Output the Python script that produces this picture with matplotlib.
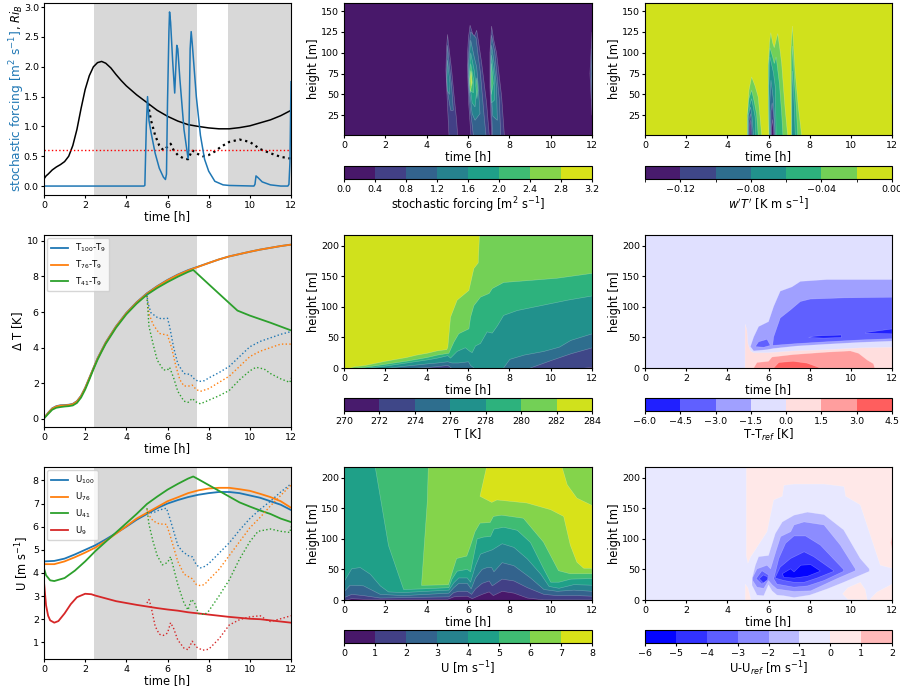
import numpy as np
import matplotlib
matplotlib.use('Agg')
import matplotlib.pyplot as plt
from matplotlib.cm import ScalarMappable
from matplotlib.colors import BoundaryNorm, ListedColormap

# left column, (time, value)
ri_solid = [(0,.12),(.1,.17),(.2,.2),(.4,.27),(.6,.32),(.8,.36),(1,.41),(1.2,.5),(1.4,.68),(1.6,.95),(1.8,1.3),(2,1.62),(2.2,1.85),(2.4,2),(2.6,2.07),(2.8,2.09),(3,2.06),(3.25,1.98),(3.5,1.87),(3.75,1.77),(4,1.68),(4.5,1.53),(5,1.4),(5.5,1.27),(6,1.17),(6.5,1.09),(7,1.03),(7.5,1),(8,.975),(8.5,.96),(9,.96),(9.5,.98),(10,1.01),(10.5,1.06),(11,1.11),(11.5,1.18),(12,1.27)]
ri_dotted = [(5.05,1.38),(5.2,1.1),(5.4,.85),(5.6,.68),(5.8,.6),(6,.66),(6.15,.71),(6.3,.6),(6.5,.52),(6.8,.46),(7,.45),(7.2,.6),(7.4,.55),(7.7,.5),(8,.52),(8.3,.58),(8.6,.66),(9,.74),(9.5,.78),(10,.74),(10.5,.62),(11,.55),(11.5,.49),(12,.46)]
forcing = [(0,0),(4.85,0),(4.9,.01),(4.97,1),(5.03,1.5),(5.1,1.1),(5.2,.9),(5.4,.55),(5.6,.3),(5.8,.15),(5.9,.11),(5.95,.2),(6,1.4),(6.07,2.6),(6.1,2.92),(6.15,2.75),(6.25,2.1),(6.35,1.56),(6.45,2.36),(6.5,2.3),(6.6,1.8),(6.8,.95),(7,.46),(7.03,.6),(7.1,2.3),(7.15,2.59),(7.2,2.4),(7.4,1.5),(7.6,.85),(7.8,.45),(8,.25),(8.3,.08),(8.7,.02),(9,.01),(10.2,0),(10.25,.03),(10.3,.17),(10.4,.14),(10.6,.07),(11,.02),(11.5,0),(11.85,0),(11.9,.03),(11.95,.4),(12,1.75)]
ri_crit = 0.6

dT100 = [(0,.05),(.2,.35),(.4,.6),(.6,.72),(.8,.77),(1,.78),(1.2,.8),(1.4,.85),(1.6,1),(1.8,1.3),(2,1.75),(2.2,2.3),(2.4,2.85),(2.6,3.4),(2.8,3.85),(3,4.3),(3.5,5.2),(4,5.95),(4.5,6.55),(5,7.05),(5.5,7.45),(6,7.8),(6.5,8.1),(7,8.35),(7.5,8.55),(8,8.75),(8.5,8.95),(9,9.12),(9.5,9.25),(10,9.38),(10.5,9.5),(11,9.6),(11.5,9.7),(12,9.78)]
dT76 = [(0,.05),(.2,.33),(.4,.58),(.6,.7),(.8,.75),(1,.76),(1.2,.78),(1.4,.83),(1.6,.98),(1.8,1.28),(2,1.73),(2.2,2.28),(2.4,2.83),(2.6,3.38),(2.8,3.83),(3,4.28),(3.5,5.18),(4,5.93),(4.5,6.53),(5,7.03),(5.5,7.43),(6,7.78),(6.5,8.08),(7,8.33),(7.5,8.54),(8,8.75),(8.5,8.95),(9,9.12),(9.5,9.25),(10,9.38),(10.5,9.5),(11,9.6),(11.5,9.7),(12,9.78)]
dT41 = [(0,.03),(.2,.28),(.4,.52),(.6,.63),(.8,.67),(1,.7),(1.2,.72),(1.4,.76),(1.6,.9),(1.8,1.2),(2,1.65),(2.2,2.2),(2.4,2.78),(2.6,3.32),(2.8,3.78),(3,4.22),(3.5,5.12),(4,5.87),(4.5,6.47),(5,6.97),(5.5,7.35),(6,7.68),(6.5,7.98),(7,8.25),(7.25,8.36),(8,7.56),(9,6.5),(9.4,6.08),(10,5.8),(11,5.4),(12,4.97)]
dT100_dot = [(5,7),(5.05,6.5),(5.2,5.95),(5.5,5.7),(5.7,5.62),(6,5.65),(6.1,5.2),(6.3,4),(6.5,3.1),(6.8,2.55),(7.1,2.5),(7.3,2.25),(7.5,2.1),(7.8,2.15),(8,2.3),(8.5,2.6),(9,2.95),(9.5,3.5),(10,4.05),(10.5,4.35),(11,4.55),(11.5,4.75),(12,4.9)]
dT76_dot = [(5,6.9),(5.1,5.9),(5.3,5.3),(5.6,4.8),(6,4.7),(6.2,4),(6.4,3),(6.6,2.2),(6.8,1.85),(7.1,1.85),(7.2,1.9),(7.4,1.65),(7.6,1.55),(8,1.7),(8.5,2.05),(9,2.4),(9.5,2.95),(10,3.5),(10.5,3.8),(11,4),(11.5,4.2),(12,4.2)]
dT41_dot = [(5,6.9),(5.1,5.2),(5.3,4.2),(5.5,3.3),(5.8,2.75),(6,2.75),(6.1,2.9),(6.3,2.3),(6.5,1.55),(6.8,1),(7,.93),(7.2,1.15),(7.4,.95),(7.6,.85),(8,1.05),(8.5,1.3),(9,1.6),(9.5,2.2),(10,2.7),(10.3,2.9),(10.7,2.8),(11,2.55),(11.5,2.25),(11.95,2.05),(12,2.3)]

u100 = [(0,4.5),(.5,4.52),(1,4.62),(1.5,4.8),(2,5),(2.5,5.2),(3,5.45),(3.5,5.72),(4,6),(4.5,6.3),(5,6.55),(5.5,6.8),(6,7),(6.5,7.15),(7,7.28),(7.5,7.38),(8,7.45),(8.5,7.5),(9,7.5),(9.5,7.45),(10,7.35),(10.5,7.25),(11,7.1),(11.5,6.95),(12,6.72)]
u76 = [(0,4.38),(.5,4.38),(1,4.5),(1.5,4.68),(2,4.88),(2.5,5.1),(3,5.38),(3.5,5.7),(4,6.02),(4.5,6.35),(5,6.6),(5.5,6.85),(6,7.1),(6.5,7.27),(7,7.45),(7.5,7.57),(8,7.65),(8.5,7.68),(9,7.68),(9.5,7.62),(10,7.55),(10.5,7.42),(11,7.28),(11.5,7.1),(12,6.82)]
u41 = [(0,4.2),(.1,3.9),(.3,3.68),(.5,3.65),(1,3.78),(1.5,4.1),(2,4.5),(2.5,4.95),(3,5.35),(3.5,5.75),(4,6.15),(4.5,6.55),(5,6.98),(5.5,7.3),(6,7.6),(6.5,7.85),(7,8.08),(7.25,8.17),(7.5,8.05),(8,7.8),(8.5,7.55),(9,7.3),(9.5,7.05),(10,6.87),(10.5,6.7),(11,6.55),(11.5,6.35),(12,6.2)]
u9 = [(0,3.6),(.05,3.1),(.1,2.6),(.2,2.15),(.3,1.95),(.5,1.85),(.7,1.92),(1,2.25),(1.3,2.65),(1.6,2.95),(2,3.1),(2.3,3.08),(2.5,3.02),(3,2.9),(3.5,2.78),(4,2.7),(4.5,2.62),(5,2.55),(5.5,2.48),(6,2.42),(6.5,2.37),(7,2.3),(7.5,2.25),(8,2.2),(8.5,2.15),(9,2.1),(9.5,2.06),(10,2.02),(10.5,2),(11,1.95),(11.5,1.9),(12,1.85)]
u100_dot = [(5,6.6),(5.3,6.6),(5.6,6.72),(5.95,6.8),(6.1,6.4),(6.3,5.8),(6.5,5.2),(6.7,4.95),(7,4.75),(7.2,4.7),(7.4,4.35),(7.6,4.22),(7.8,4.28),(8,4.4),(8.5,4.85),(9,5.3),(9.5,5.85),(10,6.35),(10.5,6.75),(11,7.1),(11.5,7.5),(12,7.85)]
u76_dot = [(5,6.75),(5.1,6.5),(5.3,6.25),(5.6,6.12),(5.95,6.1),(6.1,5.7),(6.3,5.1),(6.5,4.5),(6.8,3.95),(7,3.85),(7.2,3.75),(7.4,3.5),(7.6,3.45),(7.8,3.5),(8,3.7),(8.5,4.15),(9,4.75),(9.5,5.35),(10,5.95),(10.5,6.4),(11,6.9),(11.5,7.35),(12,7.8)]
u41_dot = [(5,6.8),(5.1,6.1),(5.3,5.35),(5.5,4.75),(5.75,4.35),(6,4.45),(6.15,4.7),(6.3,4.2),(6.5,3.5),(6.8,2.7),(7,2.4),(7.15,2.85),(7.3,2.75),(7.5,2.25),(7.8,2.2),(8,2.35),(8.5,3),(9,3.7),(9.5,4.6),(10,5.35),(10.4,5.8),(11,5.9),(11.5,5.8),(11.95,5.75),(12,6)]
u9_dot = [(5,2.7),(5.1,2.85),(5.2,2.55),(5.4,1.7),(5.6,1.35),(5.8,1.3),(6,1.4),(6.15,1.85),(6.3,1.6),(6.5,1.1),(6.8,.75),(7,.68),(7.2,1.05),(7.4,.8),(7.7,.66),(8,.7),(8.5,1.15),(9,1.75),(9.5,1.98),(10,2.1),(10.5,2.15),(10.8,1.98),(11,1.9),(11.5,2.02),(12,2.15)]

night_spans = [(2.45,7.45),(8.95,12)]

# colour levels of the filled panels
forcing_levels = [0,.4,.8,1.2,1.6,2,2.4,2.8,3.2]
wt_levels = [-.14,-.12,-.1,-.08,-.06,-.04,-.02,0]
wt_ticks = [-.12,-.08,-.04,0]
wt_ticklabels = ['\u22120.12','\u22120.08','\u22120.04','0.00']
t_levels = [270,272,274,276,278,280,282,284]
dt_levels = [-6,-4.5,-3,-1.5,0,1.5,3,4.5]
u_levels = [0,1,2,3,4,5,6,7,8]
du_levels = [-6,-5,-4,-3,-2,-1,0,1,2]

# stochastic forcing, closed outlines (time, height) of each level
fc_band1 = [
 [(4.93,79),(4.96,105),(5.01,122),(5.1,102),(5.21,79),(5.32,50),(5.45,19),(5.5,1),(5.08,1),(5,40)],
 [(5.98,76),(5.98,100),(6.02,118),(6.1,133),(6.2,125),(6.26,118),(6.34,122),(6.42,127),(6.5,115),(6.66,88),(6.8,60),(6.9,40),(7.03,1),(6.14,1),(6.03,40)],
 [(7.06,100),(7.14,132),(7.25,115),(7.38,100),(7.5,75),(7.63,47),(7.76,1),(7.14,1),(7.06,59)],
 [(11.9,75),(12,125),(12,25)]]
fc_band2 = [
 [(4.96,70),(5.01,109),(5.1,85),(5.21,59),(5.29,31),(5.16,31),(5,55)],
 [(6,85),(6.05,105),(6.13,125),(6.39,118),(6.5,95),(6.6,76),(6.77,27),(6.87,1),(6.26,1),(6.1,35),(6.03,60)],
 [(7.08,100),(7.14,121),(7.3,100),(7.52,43),(7.58,1),(7.19,1),(7.1,50)],
 [(11.96,75),(12,105),(12,45)]]
fc_band3 = [
 [(4.98,70),(5.01,91),(5.13,63),(5.1,50),(5,55)],
 [(6.03,85),(6.13,115),(6.3,95),(6.42,83),(6.5,59),(6.58,27),(6.34,19),(6.2,27),(6.05,60)],
 [(7.1,85),(7.14,109),(7.27,87),(7.38,59),(7.42,19),(7.2,24),(7.1,60)]]
fc_band4 = [
 [(6.05,71),(6.13,100),(6.3,79),(6.42,55),(6.34,35),(6.2,40)],
 [(7.11,75),(7.14,97),(7.27,71),(7.27,43),(7.14,40)]]
fc_band5 = [
 [(6.07,75),(6.13,87),(6.26,69),(6.26,52),(6.1,55)],
 [(6.38,60),(6.43,70),(6.48,55),(6.43,45)],
 [(7.12,65),(7.14,87),(7.22,63),(7.13,50)]]
fc_band6 = [[(6.08,68),(6.14,79),(6.21,64),(6.1,52)]]
fc_band7 = [[(6.13,70),(6.15,78),(6.18,65),(6.15,60)]]

# w'T', drawn from the edge of the weak levels to the strong ones
wt_band5 = [
 [(4.97,1),(4.97,23),(5.05,55),(5.18,71),(5.35,60),(5.5,47),(5.6,20),(5.67,1)],
 [(6.02,1),(5.99,27),(5.99,87),(6.05,112),(6.11,124),(6.2,112),(6.28,106),(6.37,115),(6.45,123),(6.55,105),(6.64,87),(6.8,35),(6.93,1)],
 [(7.13,1),(7.08,50),(7.08,100),(7.16,132),(7.29,79),(7.45,35),(7.61,1)],
 [(11.97,50),(12,62),(12,38)]]
wt_band4 = [
 [(4.98,1),(4.98,25),(5.05,45),(5.18,55),(5.3,42),(5.42,27),(5.5,1)],
 [(6.03,1),(6,40),(6,85),(6.07,106),(6.2,95),(6.28,87),(6.37,95),(6.53,63),(6.64,27),(6.7,1)],
 [(7.12,1),(7.13,60),(7.16,108),(7.25,70),(7.35,35),(7.42,1)]]
wt_band3 = [
 [(5,1),(5,20),(5.1,38),(5.18,45),(5.35,23),(5.38,1)],
 [(6.05,1),(6.02,60),(6.07,95),(6.24,76),(6.33,59),(6.37,1)],
 [(7.13,1),(7.14,50),(7.17,78),(7.25,35),(7.3,1)]]
wt_band2 = [
 [(5.02,1),(5.03,25),(5.13,35),(5.2,22),(5.27,1)],
 [(6.09,1),(6.06,40),(6.12,67),(6.24,43),(6.33,1)]]
wt_band1 = [
 [(5.05,1),(5.05,18),(5.12,27),(5.18,12),(5.2,1)],
 [(6.12,1),(6.12,30),(6.18,40),(6.27,20),(6.3,1)]]
wt_band0 = [
 [(5.07,1),(5.08,12),(5.12,19),(5.14,1)],
 [(6.15,1),(6.15,10),(6.2,20),(6.25,5),(6.26,1)]]

# heights of the isotherms
t282 = [(0,0),(.3,1),(.5,3),(1,5),(2,12),(3,18),(3.5,22),(4,25),(4.5,29),(4.95,31),(5,35),(5.13,84),(5.45,112),(6.02,128),(6.26,164),(6.47,173),(6.53,218),(12,218)]
t280 = [(.5,0),(1,2),(2,7),(3,12),(4,18),(4.5,22),(5.05,25),(5.29,43),(5.53,57),(6.02,65),(6.1,84),(6.26,103),(6.58,117),(7,123),(7.15,131),(7.7,141),(8.85,144),(10.3,148),(12,156)]
t278 = [(1,0),(2,4),(3,9),(4,14),(4.5,17),(5,21),(5.13,17),(5.45,28),(5.85,34),(6.07,28),(6.18,26),(6.34,37),(6.58,41),(6.9,60),(7.15,58),(7.4,70),(7.7,87),(8.36,95),(9.65,104),(10.8,112),(12,119)]
t276 = [(2,0),(3,4),(4,7.5),(4.5,9),(5,11),(5.2,9),(5.5,9),(6,11),(6.1,5),(6.3,0),(7.68,0),(8,15),(8.7,22),(9.65,28),(10.4,35),(10.95,46),(12,57)]
t274 = [(3.2,0),(4,1.5),(4.5,3),(5,5),(5.2,0),(8.93,0),(10,13),(10.95,24),(12,34)]
t272 = [(11.5,0),(12,2)]

# T-Tref, closed outlines
dt_pale = [(4.86,0),(4.87,72),(4.95,62),(5,40),(5.12,28),(5.28,25),(6,25),(7.2,28),(8.84,30),(10.46,33),(12,34),(12,0)]
dt_pink = [(5.28,0),(5.44,9),(6,11),(6.17,18),(7.2,22),(8.84,26),(9.98,28),(10.38,24),(10.8,13),(11.1,7),(11.16,0)]
dt_red = [(6.25,0),(6.5,9),(7.2,11),(7.87,8),(8.52,0)]
dt_blue2 = [(5.12,35),(5.28,51),(5.52,68),(6,76),(6.25,101),(6.57,126),(7.14,133),(7.55,142),(8.84,145),(12,145),(12,44),(10.46,42),(8.84,39),(7.38,36),(6.25,32),(5.93,30),(5.28,28)]
dt_blue1a = [(5.36,35),(5.52,43),(5.93,47),(6.09,37),(5.77,34)]
dt_blue1b = [(6.2,37),(6.25,51),(6.57,82),(7.06,95),(7.55,109),(8.03,113),(9.65,115),(12,116),(12,48),(10.46,46),(8.84,43),(7.38,40)]
dt_deep_a = [(7.95,50),(8.2,52),(8.6,53),(9.54,54),(9.54,50),(8.68,49)]
dt_deep_b = [(10.7,58),(12,64),(12,56),(10.7,57)]

# U, lower edge of each level
u1_lo = [(0,0),(.35,3),(.92,2),(1.5,1.5),(5,2),(5.3,6),(5.94,7),(6.18,3),(6.66,10),(7,14),(7.2,8),(7.63,15),(8.2,12),(8.85,4),(9.65,1),(10.5,1),(12,1)]
u2_lo = [(0,5),(.35,10),(.92,8),(1.73,4),(5.05,6),(5.29,13),(5.53,15),(5.94,15),(6.15,10),(6.34,19),(6.66,28),(7,32),(7.15,24),(7.63,35),(8.2,32),(8.85,21),(9.65,10),(10.3,8),(11.27,8),(12,7)]
u3_lo = [(0,15),(.27,25),(.92,24),(1.73,10),(2.86,8),(5.05,12),(5.29,21),(5.53,28),(5.94,28),(6.13,19),(6.34,37),(6.66,51),(6.9,54),(7.12,54),(7.23,47),(7.63,62),(8.2,57),(9,37),(9.65,18),(10.3,15),(11.1,17),(12,15)]
u4_lo = [(0,32),(.35,52),(.76,54),(1.25,43),(1.73,24),(2.13,14),(2.86,13),(5.05,17),(5.29,29),(5.53,37),(5.94,37),(6.1,30),(6.34,57),(6.58,76),(6.9,80),(7.15,83),(7.63,93),(8.2,87),(8.85,68),(9.5,43),(9.9,23),(10.38,20),(11.1,26),(12,25)]
u5_lo = [(1.49,218),(2.13,90),(2.86,18),(3.75,19),(5.05,21),(5.2,35),(5.45,48),(5.94,51),(6.1,47),(6.42,101),(6.74,104),(7.07,105),(7.23,117),(7.7,120),(8.36,115),(9,95),(9.65,51),(9.98,30),(10.38,30),(10.95,35),(12,36)]
u6_edge = [(3.75,24),(4.03,161),(4.08,218),(12,218),(12,43),(10.95,43),(10.38,48),(9.65,95),(8.68,134),(7.63,139),(7.23,137),(7.07,127),(6.58,126),(6.34,112),(6.1,87),(5.94,72),(5.45,68),(5.29,51),(5.05,25)]
u7_edge = [(6.58,170),(6.9,218),(10.55,218),(10.8,189),(11.27,167),(12,155),(12,52),(11.6,52),(11.27,62),(10.95,90),(10.63,137),(10,148),(8.85,159),(7.4,164),(7.15,160)]

# U-Uref, closed outlines
du_pink_top = [(4.92,218),(4.92,73),(5,60),(5.12,70),(5.93,112),(6.25,164),(6.67,170),(6.75,188),(7.24,190),(8.7,190),(9.67,186),(9.75,170),(10.46,156),(10.95,106),(11.43,57),(12,52),(12,218)]
du_pink_a = [(4.87,0),(4.87,26),(5,20),(5.15,0)]
du_pink_b = [(9.6,10),(9.85,20),(10.46,29),(10.7,17),(10.8,0),(9.85,1)]
du_pink_c = [(10.95,2),(11.27,13),(12,26),(12,0),(11,0)]
du_rose = [(11.93,94),(12,104),(12,84)]
du_band4 = [(5.2,35),(5.36,57),(5.52,71),(6,73),(6.33,109),(6.67,128),(7.24,139),(7.89,144),(8.7,140),(9.65,115),(10.46,68),(10.9,51),(10.9,47),(9.65,29),(8.84,18),(8,8),(7.24,4),(6.74,7),(6.41,8),(6.17,15),(6,25),(5.77,7),(5.44,8),(5.2,24)]
du_band3 = [(5.23,37),(5.44,51),(5.93,57),(6.1,51),(6.38,82),(6.59,104),(7.08,112),(7.24,123),(7.73,128),(8.7,123),(9.49,90),(10.22,51),(10.22,48),(9.33,35),(8.05,15),(7.24,14),(6.41,18),(6.17,25),(6,32),(5.77,19),(5.44,21),(5.23,32)]
du_band2a = [(5.4,35),(5.68,48),(6,41),(6,35),(5.68,26)]
du_band2b = [(6.25,35),(6.27,37),(6.5,68),(6.83,93),(7.24,105),(7.8,105),(8.52,90),(9.65,50),(9.65,47),(8.7,32),(7.89,23),(7.24,21),(6.41,26)]
du_band1a = [(5.55,35),(5.75,41),(5.95,38),(5.95,33),(5.75,28)]
du_band1b = [(6.33,36),(6.33,37),(6.57,54),(7.07,68),(7.73,79),(8.2,71),(9.17,48),(9.17,47),(8.36,36),(7.73,29),(7.24,29),(6.74,32)]
du_band0 = [(6.67,43),(7.07,51),(7.24,46),(7.57,57),(8.05,58),(8.5,48),(8.5,47),(7.9,39),(7.24,36),(6.75,37)]

time_ticks = [0,2,4,6,8,10,12]
z_ticks_low = [25,50,75,100,125,150]
z_ticks_high = [0,50,100,150,200]
z_top = 218

plt.rcParams['font.size'] = 6.8
plt.rcParams['axes.labelsize'] = 8.3
plt.rcParams['lines.linewidth'] = 1.1
plt.rcParams['axes.linewidth'] = 0.8
plt.rcParams['xtick.major.size'] = 2.2
plt.rcParams['ytick.major.size'] = 2.2
plt.rcParams['xtick.major.pad'] = 2
plt.rcParams['ytick.major.pad'] = 1.5

edge = (1, 1, 1, 0.3)


def xy(pairs):
    a = np.array(pairs, dtype=float)
    return a[:, 0], a[:, 1]


def line(ax, pairs, *args, **kw):
    t, v = xy(pairs)
    return ax.plot(t, v, *args, **kw)[0]


def outline(ax, pairs, color):
    t, z = xy(pairs)
    ax.fill(t, z, facecolor=color, edgecolor=edge, lw=0.4)


def box(px_left, px_top, px_right, px_bottom):
    return fig.add_axes([px_left/900, 1-px_bottom/695, (px_right-px_left)/900, (px_bottom-px_top)/695])


def viridis_colors(n):
    return [plt.get_cmap('viridis')((i+.5)/n) for i in range(n)]


def bwr_colors(levels, vlim):
    cols = []
    for a, b in zip(levels[:-1], levels[1:]):
        cols.append(plt.get_cmap('bwr')(((a+b)/2+vlim)/(2*vlim)))
    return cols


def colorbar(ax_px, levels, colors, label, ticks=None, ticklabels=None):
    cax = box(*ax_px)
    sm = ScalarMappable(norm=BoundaryNorm(levels, len(colors)), cmap=ListedColormap(colors))
    cb = fig.colorbar(sm, cax=cax, orientation='horizontal', ticks=ticks if ticks is not None else levels)
    if ticklabels is not None:
        cb.set_ticklabels(ticklabels)
    cb.set_label(label, labelpad=1)
    cax.tick_params(length=2.2, pad=2)
    return cb


def field_axes(px, ylim, yticks):
    ax = box(*px)
    ax.set_xlim(0, 12)
    ax.set_ylim(*ylim)
    ax.set_xticks(time_ticks)
    ax.set_yticks(yticks)
    ax.set_xlabel('time [h]', labelpad=0)
    ax.set_ylabel('height [m]', labelpad=0.5)
    return ax


def line_axes(px, ylim, yticks, ylabel=None):
    ax = box(*px)
    for a, b in night_spans:
        ax.axvspan(a, b, color='gray', alpha=0.3, lw=0)
    ax.set_xlim(0, 12)
    ax.set_ylim(*ylim)
    ax.set_xticks(time_ticks)
    ax.set_yticks(yticks)
    ax.set_xlabel('time [h]', labelpad=0)
    if ylabel:
        ax.set_ylabel(ylabel, labelpad=1)
    return ax


fig = plt.figure(figsize=(9, 6.95), dpi=100)

# left column
ax = line_axes((44, 3, 291, 195), (-.15, 3.07), [0,.5,1,1.5,2,2.5,3])
line(ax, ri_solid, 'k')
line(ax, ri_dotted, 'k', ls=':', lw=1.6)
ax.axhline(ri_crit, color='r', ls=':', lw=1)
line(ax, forcing, color='tab:blue')
fig.text(17/900, 1-111/695, 'stochastic forcing [m$^2$ s$^{-1}$]', color='tab:blue', rotation=90, ha='center', va='center', fontsize=8.7)
fig.text(17/900, 1-17/695, ', $Ri_B$', color='k', rotation=90, ha='center', va='center', fontsize=8.3)

ax = line_axes((44, 235, 291, 427), (-.45, 10.32), [0,2,4,6,8,10], '$\\Delta$ T [K]')
line(ax, dT100, color='tab:blue', lw=1.3, label='T$_{100}$-T$_9$')
line(ax, dT76, color='tab:orange', lw=1.3, label='T$_{76}$-T$_9$')
line(ax, dT41, color='tab:green', lw=1.3, label='T$_{41}$-T$_9$')
line(ax, dT100_dot, color='tab:blue', ls=':', lw=1)
line(ax, dT76_dot, color='tab:orange', ls=':', lw=1)
line(ax, dT41_dot, color='tab:green', ls=':', lw=1)
ax.legend(loc='upper left', fontsize=6.2, borderaxespad=.4)

ax = line_axes((44, 467, 291, 659), (.28, 8.58), [1,2,3,4,5,6,7,8], 'U [m s$^{-1}$]')
line(ax, u100, color='tab:blue', lw=1.3, label='U$_{100}$')
line(ax, u76, color='tab:orange', lw=1.3, label='U$_{76}$')
line(ax, u41, color='tab:green', lw=1.3, label='U$_{41}$')
line(ax, u9, color='tab:red', lw=1.3, label='U$_9$')
line(ax, u100_dot, color='tab:blue', ls=':', lw=1)
line(ax, u76_dot, color='tab:orange', ls=':', lw=1)
line(ax, u41_dot, color='tab:green', ls=':', lw=1)
line(ax, u9_dot, color='tab:red', ls=':', lw=1)
ax.legend(loc='upper left', fontsize=6.2, borderaxespad=.4)

# stochastic forcing
cols = viridis_colors(8)
ax = field_axes((344, 3, 592, 135), (1.4, 159.6), z_ticks_low)
ax.set_facecolor(cols[0])
for i, band in enumerate([fc_band1, fc_band2, fc_band3, fc_band4, fc_band5, fc_band6, fc_band7]):
    for shape in band:
        outline(ax, shape, cols[i+1])
colorbar((344, 166, 592, 179), forcing_levels, cols, 'stochastic forcing [m$^2$ s$^{-1}$]')

# heat flux
cols = viridis_colors(7)
ax = field_axes((645, 3, 892, 135), (1.4, 159.6), z_ticks_low)
ax.set_facecolor(cols[6])
for i, band in zip([5, 4, 3, 2, 1, 0], [wt_band5, wt_band4, wt_band3, wt_band2, wt_band1, wt_band0]):
    for shape in band:
        outline(ax, shape, cols[i])
colorbar((645, 166, 892, 179), wt_levels, cols, "$w'T'$ [K m s$^{-1}$]", wt_ticks, wt_ticklabels)

# temperature
ax = field_axes((344, 235, 592, 368), (0, z_top), z_ticks_high)
ax.set_facecolor(cols[6])
for i, curve in zip([5, 4, 3, 2, 1, 0], [t282, t280, t278, t276, t274, t272]):
    t, z = xy(curve)
    ax.fill_between(t, 0, z, facecolor=cols[i], edgecolor=edge, lw=0.4)
colorbar((344, 398, 592, 411), t_levels, cols, 'T [K]')

# temperature difference
cols = bwr_colors(dt_levels, 6)
ax = field_axes((645, 235, 892, 368), (0, z_top), z_ticks_high)
ax.set_facecolor(cols[3])
outline(ax, dt_pale, cols[4])
outline(ax, dt_pink, cols[5])
outline(ax, dt_red, cols[6])
outline(ax, dt_blue2, cols[2])
outline(ax, dt_blue1a, cols[1])
outline(ax, dt_blue1b, cols[1])
outline(ax, dt_deep_a, cols[0])
outline(ax, dt_deep_b, cols[0])
colorbar((645, 398, 892, 411), dt_levels, cols, 'T-T$_{ref}$ [K]')

# wind
cols = viridis_colors(8)
ax = field_axes((344, 467, 592, 600), (0, z_top), z_ticks_high)
ax.set_facecolor(cols[0])
for i, curve in zip([1, 2, 3, 4, 5], [u1_lo, u2_lo, u3_lo, u4_lo, u5_lo]):
    t, z = xy(curve)
    ax.fill_between(t, z, z_top, facecolor=cols[i], edgecolor=edge, lw=0.4)
outline(ax, u6_edge, cols[6])
outline(ax, u7_edge, cols[7])
colorbar((344, 630, 592, 643), u_levels, cols, 'U [m s$^{-1}$]')

# wind difference
cols = bwr_colors(du_levels, 5.6)
ax = field_axes((645, 467, 892, 600), (0, z_top), z_ticks_high)
ax.set_facecolor(cols[5])
for shape in [du_pink_top, du_pink_a, du_pink_b, du_pink_c]:
    outline(ax, shape, cols[6])
outline(ax, du_rose, cols[7])
outline(ax, du_band4, cols[4])
outline(ax, du_band3, cols[3])
outline(ax, du_band2a, cols[2])
outline(ax, du_band2b, cols[2])
outline(ax, du_band1a, cols[1])
outline(ax, du_band1b, cols[1])
outline(ax, du_band0, cols[0])
colorbar((645, 630, 892, 643), du_levels, cols, 'U-U$_{ref}$ [m s$^{-1}$]')

fig.savefig('out.png', dpi=100)
